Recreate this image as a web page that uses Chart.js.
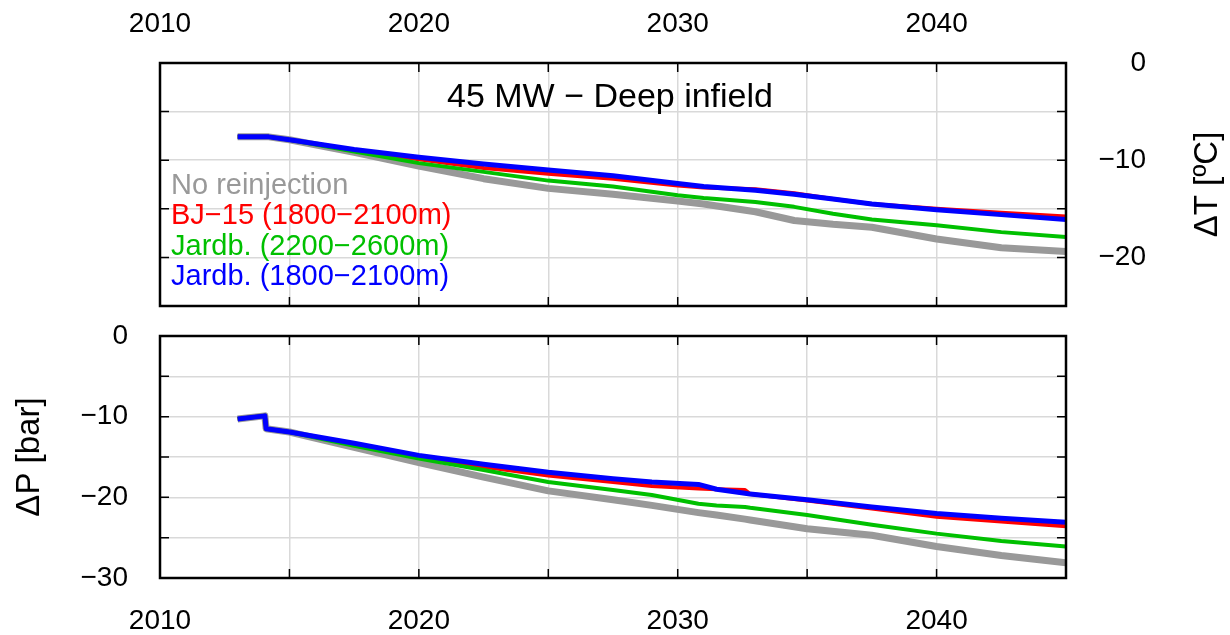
<!DOCTYPE html>
<html>
<head>
<meta charset="utf-8">
<script src="https://cdn.jsdelivr.net/npm/chart.js@4.4.1/dist/chart.umd.min.js"></script>
<style>
    body { margin: 0; background: #ffffff; }
    #wrap { position: relative; width: 1230px; height: 635px; }
    canvas { position: absolute; left: 0; }
    #tempChart { top: 0; }
    #presChart { top: 320px; }
</style>
</head>
<body>
<div id="wrap">
    <canvas id="tempChart" width="1230" height="320"></canvas>
    <canvas id="presChart" width="1230" height="315"></canvas>
</div>
<script>
// Temperature panel (top), years and ΔT values [ºC]
const tYears = [2013, 2014.2, 2015, 2017.5, 2020, 2022.5, 2025, 2027.5, 2030, 2031, 2033, 2034.5, 2036, 2037.5, 2040, 2042.5, 2045];
const tNoReinj = [-7.6, -7.6, -7.9, -9.2, -10.6, -11.9, -12.9, -13.5, -14.2, -14.5, -15.3, -16.2, -16.6, -16.9, -18.1, -19.0, -19.4];
const tBJ15 = [-7.6, -7.6, -7.9, -9.0, -9.9, -10.8, -11.4, -11.9, -12.6, -12.8, -13.0, -13.4, -14.0, -14.5, -15.0, -15.4, -15.8];
const tJardbDeep = [-7.6, -7.6, -7.9, -9.1, -10.3, -11.2, -12.1, -12.7, -13.6, -13.9, -14.3, -14.8, -15.5, -16.1, -16.7, -17.4, -17.9];
const tJardbShallow = [-7.6, -7.6, -7.9, -8.9, -9.7, -10.4, -11.0, -11.6, -12.4, -12.7, -13.1, -13.5, -14.0, -14.5, -15.1, -15.6, -16.1];

// Pressure panel (bottom), years and ΔP values [bar]
const pYears = [2013, 2014.05, 2014.1, 2015, 2017.5, 2020, 2022.5, 2025, 2027.5, 2029, 2030.8, 2031.5, 2032.6, 2032.8, 2035, 2037.5, 2040, 2042.5, 2045];
const pNoReinj = [-10.3, -9.9, -11.5, -11.9, -13.8, -15.7, -17.5, -19.2, -20.3, -21.0, -21.9, -22.2, -22.7, -22.8, -23.9, -24.7, -26.1, -27.2, -28.1];
const pBJ15 = [-10.3, -9.9, -11.5, -11.9, -13.4, -15.0, -16.2, -17.3, -18.1, -18.6, -18.9, -19.0, -19.1, -19.6, -20.4, -21.4, -22.4, -23.0, -23.6];
const pJardbDeep = [-10.3, -9.9, -11.5, -11.9, -13.6, -15.2, -16.6, -18.1, -19.1, -19.7, -20.8, -21.0, -21.2, -21.3, -22.2, -23.4, -24.5, -25.4, -26.1];
const pJardbShallow = [-10.3, -9.9, -11.5, -11.9, -13.3, -14.8, -15.9, -16.9, -17.7, -18.1, -18.4, -19.0, -19.5, -19.6, -20.3, -21.2, -22.0, -22.6, -23.1];

const seriesLabels = ['No reinjection', 'BJ\u221215 (1800\u22122100m)', 'Jardb. (2200\u22122600m)', 'Jardb. (1800\u22122100m)'];
const xTickLabels = [2010, 2020, 2030, 2040];

const colors = {
    gray: '#999999',
    red: '#ff0000',
    green: '#00c000',
    blue: '#0000ff',
    grid: '#d9d9d9'
};
const lineWidths = [7, 4, 4, 5];
const drawOrder = [3, 2, 1, 0];
const seriesColors = [colors.gray, colors.red, colors.green, colors.blue];

const FONT = '"Liberation Sans", Arial, Helvetica, sans-serif';
Chart.defaults.font.family = FONT;
Chart.defaults.color = '#000';

function minus(v) {
    return v < 0 ? '\u2212' + Math.abs(v) : String(v);
}

function buildDatasets(years, seriesList) {
    return seriesList.map((vals, i) => ({
        label: seriesLabels[i],
        data: years.map((yr, k) => ({ x: yr, y: vals[k] })),
        borderColor: seriesColors[i],
        backgroundColor: seriesColors[i],
        borderWidth: lineWidths[i],
        pointRadius: 0,
        tension: 0,
        order: drawOrder[i],
        borderJoinStyle: 'round',
        borderCapStyle: 'butt',
        fill: false
    }));
}

// frame, inward ticks and extra texts (gnuplot look)
const framePlugin = {
    id: 'frame',
    afterDraw(chart, args, opts) {
        const ctx = chart.ctx;
        const a = chart.chartArea;
        const xs = chart.scales.x;
        const ys = chart.scales.y;
        ctx.save();
        ctx.strokeStyle = '#000';
        ctx.lineWidth = 1.5;
        ctx.beginPath();
        xs.ticks.forEach(t => {
            const px = xs.getPixelForValue(t.value);
            ctx.moveTo(px, a.top); ctx.lineTo(px, a.top + 9);
            ctx.moveTo(px, a.bottom); ctx.lineTo(px, a.bottom - 9);
        });
        ys.ticks.forEach(t => {
            const py = ys.getPixelForValue(t.value);
            ctx.moveTo(a.left, py); ctx.lineTo(a.left + 9, py);
            ctx.moveTo(a.right, py); ctx.lineTo(a.right - 9, py);
        });
        ctx.stroke();
        ctx.lineWidth = 2.5;
        ctx.strokeRect(a.left, a.top, a.right - a.left, a.bottom - a.top);

        // title inside plot
        if (opts.title) {
            ctx.font = '34px ' + FONT;
            ctx.fillStyle = '#000';
            ctx.textAlign = 'center';
            ctx.textBaseline = 'alphabetic';
            ctx.fillText(opts.title, opts.titleX, opts.titleY);
        }

        // legend as coloured text
        if (opts.legend) {
            ctx.font = '29px ' + FONT;
            ctx.textAlign = 'left';
            ctx.textBaseline = 'alphabetic';
            chart.data.datasets.forEach((ds, i) => {
                ctx.fillStyle = ds.borderColor;
                ctx.fillText(ds.label, opts.legendX, opts.legendY + i * 30.3);
            });
        }

        // rotated axis title
        if (opts.axisTitle) {
            ctx.translate(opts.axisTitleX, (a.top + a.bottom) / 2);
            ctx.rotate(-Math.PI / 2);
            ctx.font = '33px ' + FONT;
            ctx.fillStyle = '#000';
            ctx.textAlign = 'center';
            ctx.textBaseline = 'middle';
            ctx.fillText(opts.axisTitle, 0, 0);
        }
        ctx.restore();
    }
};

function noOverflow(s) {
    s.paddingTop = 0;
    s.paddingBottom = 0;
    s.paddingLeft = 0;
    s.paddingRight = 0;
}

function xScale(position, pad, height) {
    return {
        type: 'linear',
        position: position,
        min: 2010,
        max: 2045,
        grid: { color: colors.grid, lineWidth: 1.5, drawTicks: false },
        border: { display: false },
        ticks: {
            stepSize: 5,
            padding: pad,
            maxRotation: 0,
            font: { size: 28 },
            callback: v => xTickLabels.includes(v) ? String(v) : ''
        },
        afterFit: s => { s.height = height; noOverflow(s); }
    };
}

function yScale(position, min, pad, width, cross) {
    return {
        type: 'linear',
        position: position,
        min: min,
        max: 0,
        grid: { color: colors.grid, lineWidth: 1.5, drawTicks: false },
        border: { display: false },
        ticks: {
            stepSize: 5,
            padding: pad,
            crossAlign: cross,
            font: { size: 28 },
            callback: v => (v % 10 === 0) ? minus(v) : ''
        },
        afterFit: s => { s.width = width; noOverflow(s); }
    };
}

function initTempChart() {
    const ctx = document.getElementById('tempChart').getContext('2d');
    new Chart(ctx, {
        type: 'line',
        data: { datasets: buildDatasets(tYears, [tNoReinj, tBJ15, tJardbDeep, tJardbShallow]) },
        plugins: [framePlugin],
        options: {
            responsive: false,
            animation: false,
            devicePixelRatio: 1,
            layout: { padding: { left: 160, right: 84, top: 0, bottom: 14 } },
            plugins: {
                legend: { display: false },
                tooltip: { enabled: false },
                frame: {
                    title: '45 MW \u2212 Deep infield',
                    titleX: 610, titleY: 107,
                    legend: true, legendX: 171, legendY: 194,
                    axisTitle: '\u0394T [\u00baC]', axisTitleX: 1208
                }
            },
            scales: {
                x: xScale('top', 22, 63),
                y: yScale('right', -25, 30, 80, 'far')
            }
        }
    });
}

function initPresChart() {
    const ctx = document.getElementById('presChart').getContext('2d');
    new Chart(ctx, {
        type: 'line',
        data: { datasets: buildDatasets(pYears, [pNoReinj, pBJ15, pJardbDeep, pJardbShallow]) },
        plugins: [framePlugin],
        options: {
            responsive: false,
            animation: false,
            devicePixelRatio: 1,
            layout: { padding: { left: 0, right: 164, top: 16, bottom: 0 } },
            plugins: {
                legend: { display: false },
                tooltip: { enabled: false },
                frame: {
                    axisTitle: '\u0394P [bar]', axisTitleX: 30
                }
            },
            scales: {
                x: xScale('bottom', 26, 57),
                y: yScale('left', -30, 32, 160, 'near')
            }
        }
    });
}

initTempChart();
initPresChart();
</script>
</body>
</html>
